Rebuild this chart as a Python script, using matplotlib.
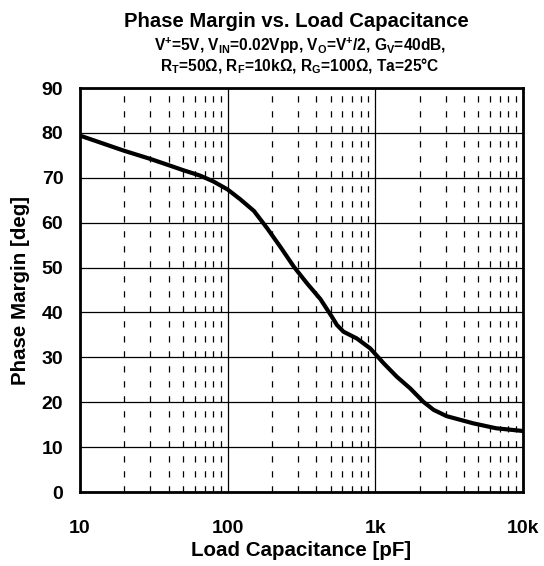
import numpy as np
import matplotlib.pyplot as plt

plt.rcParams['font.family'] = ['Liberation Sans', 'DejaVu Sans']
plt.rcParams['font.weight'] = 'bold'
plt.rcParams['mathtext.fontset'] = 'custom'
plt.rcParams['mathtext.rm'] = 'Liberation Sans:bold'
plt.rcParams['mathtext.it'] = 'Liberation Sans:bold'
plt.rcParams['mathtext.bf'] = 'Liberation Sans:bold'
plt.rcParams['mathtext.default'] = 'rm'
plt.rcParams['lines.scale_dashes'] = False

# load capacitance [pF] and phase margin [deg]
cap_pf = [10, 20, 30, 40, 50, 65, 80, 100, 122, 151, 185, 228, 281, 345,
          425, 510, 551, 611, 752, 925, 1140, 1400, 1725, 2120, 2490, 3050,
          4620, 6600, 10000]
phase_margin = [79.4, 76.0, 74.2, 72.8, 71.7, 70.5, 69.2, 67.4, 65.2, 62.6,
                58.8, 54.6, 50.2, 46.5, 43.0, 39.0, 37.2, 35.7, 34.2, 32.0,
                28.7, 25.7, 23.1, 20.1, 18.3, 16.9, 15.3, 14.2, 13.6]

x_ticks = [10, 100, 1000, 10000]
x_ticklabels = ["10", "100", "1k", "10k"]
y_ticks = list(range(0, 91, 10))

fig = plt.figure(figsize=(5.44, 5.66), dpi=100)
ax = fig.add_axes([0.147, 0.1307, 0.814, 0.7138])

ax.plot(cap_pf, phase_margin, color="black", linewidth=3.0,
        solid_joinstyle="round", solid_capstyle="round", zorder=3)

ax.set_xscale("log")
ax.set_xlim(10, 10000)
ax.set_ylim(0, 90)
ax.set_xticks(x_ticks)
ax.set_xticklabels(x_ticklabels)
ax.set_yticks(y_ticks)
ax.set_xticks([m * d for d in (10, 100, 1000) for m in range(2, 10)], minor=True)
ax.tick_params(which="both", length=0, labelsize=14)
ax.tick_params(axis="y", pad=12)
ax.tick_params(axis="x", pad=20)

ax.grid(which="major", color="black", linewidth=0.9, linestyle="-")
ax.grid(which="minor", axis="x", color="black", linewidth=0.9, dashes=(4.5, 6.3))
ax.set_axisbelow(True)
for s in ax.spines.values():
    s.set_linewidth(2.0)

ax.set_xlabel("Load Capacitance [pF]", fontsize=14.8, fontweight="bold", va="top")
ax.xaxis.set_label_coords(0.5, -0.122)
ax.set_ylabel("Phase Margin [deg]", fontsize=14.8, fontweight="bold", va="center")
ax.yaxis.set_label_coords(-0.135, 0.5)

fig.text(0.545, 0.9523, "Phase Margin vs. Load Capacitance", ha="center", va="baseline",
         fontsize=14.6, fontweight="bold")
fig.text(0.552, 0.9099, r"V$^{+}$=5V, V$_{IN}$=0.02Vpp, V$_{O}$=V$^{+}$/2, G$_{V}$=40dB,",
         ha="center", va="baseline", fontsize=11.2, fontweight="bold")
fig.text(0.552, 0.8746, r"R$_{T}$=50Ω, R$_{F}$=10kΩ, R$_{G}$=100Ω, Ta=25°C",
         ha="center", va="baseline", fontsize=11.2, fontweight="bold")

fig.savefig("out.png", dpi=100, facecolor="white")
